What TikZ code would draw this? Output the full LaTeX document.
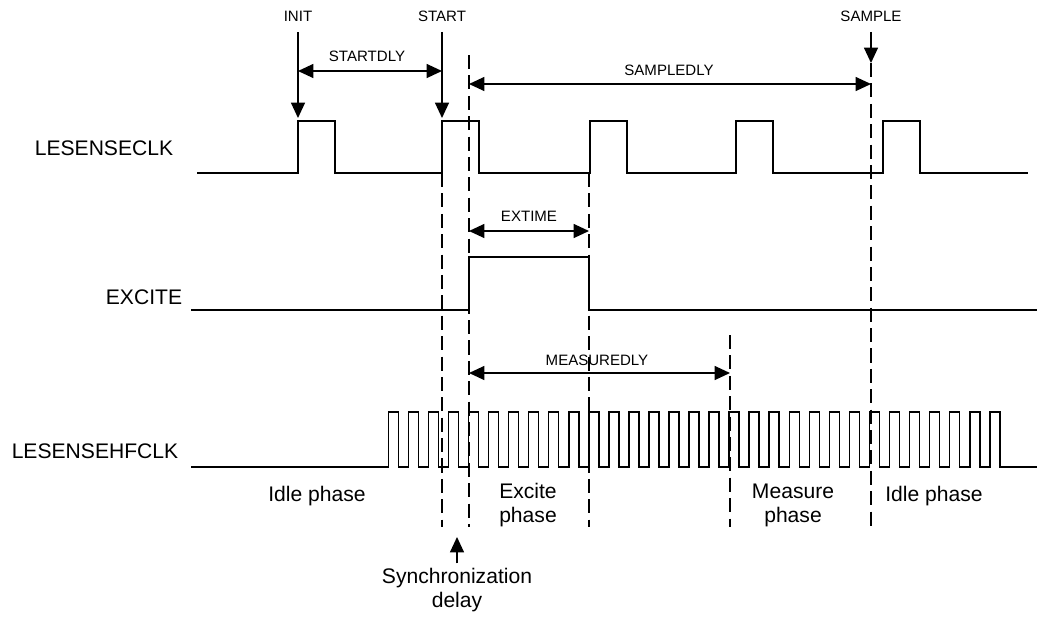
\documentclass[tikz,border=0pt]{standalone}
\usepackage{fontspec}
\setmainfont{Liberation Sans}
\usetikzlibrary{arrows.meta, positioning}

\begin{document}
\begin{tikzpicture}[x=0.025cm, y=-0.025cm,
    signal/.style={line width=1.3pt, line join=miter},
    guide/.style={line width=1pt, dash pattern=on 10pt off 4.5pt},
    timing/.style={line width=1pt, {Triangle[length=11pt,width=10pt]}-{Triangle[length=11pt,width=10pt]}},
    pointer/.style={line width=1pt, -{Triangle[length=11pt,width=10pt]}},
    signame/.style={font=\fontsize{15}{17}\selectfont},
    dlylabel/.style={font=\fontsize{10.7}{13}\selectfont},
    phase/.style={font=\fontsize{15}{17}\selectfont, align=center}]
        % Define the time points and the signal levels
        \def\tinit{298}
        \def\tstart{442}
        \def\tsync{469}
        \def\texc{589}
        \def\tmeas{730}
        \def\tsample{871}
        \useasboundingbox (0,0) rectangle (1039,620);
        % Signal names
        \node[signame] (clk) at (104,148.5) {LESENSECLK};
        \node[signame] (excite) at (144,297) {EXCITE};
        \node[signame] (hfclk) at (95,451) {LESENSEHFCLK};
        % Draw the low frequency clock
        \draw[signal] (197,173) \foreach \t in {\tinit,\tstart,590,736,883} {
            -- (\t,173) -- (\t,121) -- (\t+37,121) -- (\t+37,173)} -- (1028,173);
        % Draw the excitation pulse
        \draw[signal] (191,310) -- (\tsync,310) -- (\tsync,257) -- (\texc,257)
            -- (\texc,310) -- (1037,310);
        % Draw the high frequency clock
        \draw[signal, line width=1.1pt] (191,467) \foreach \i in {0,...,30} {
            -- ({388.3+20.05*\i},467) -- ({388.3+20.05*\i},412)
            -- ({398.3+20.05*\i},412) -- ({398.3+20.05*\i},467)} -- (1037,467);
        % Dashed guide lines
        \foreach \x/\y in {\tstart/173, \tsync/55, \texc/173, \tmeas/335, \tsample/63}
            \draw[guide] (\x,\y) -- (\x,527);
        % Trigger labels and arrows
        \node[dlylabel] (initlbl) at (\tinit,16.5) {INIT};
        \node[dlylabel] (startlbl) at (\tstart,16) {START};
        \node[dlylabel] (samplelbl) at (\tsample,16) {SAMPLE};
        \coordinate (inittip) at (\tinit,118);
        \coordinate (starttip) at (\tstart,118);
        \coordinate (sampletip) at (\tsample,63);
        \draw[pointer, shorten <=4pt] (initlbl) -- (inittip);
        \draw[pointer, shorten <=4pt] (startlbl) -- (starttip);
        \draw[pointer, shorten <=4pt] (samplelbl) -- (sampletip);
        % Delay arrows
        \node[dlylabel] (startdly) at (367,56) {STARTDLY};
        \node[dlylabel] (sampledly) at (669,70.5) {SAMPLEDLY};
        \node[dlylabel] (extime) at (529,216) {EXTIME};
        \node[dlylabel] (measdly) at (597,360) {MEASUREDLY};
        \coordinate (sdlyA) at (\tinit,71);
        \coordinate (sdlyB) at (\tstart,71);
        \coordinate (smpA) at (\tsync,84);
        \coordinate (smpB) at (\tsample,84);
        \coordinate (extA) at (\tsync,231);
        \coordinate (extB) at (\texc,231);
        \coordinate (msA) at (\tsync,373);
        \coordinate (msB) at (\tmeas,373);
        \draw[timing] (sdlyA) -- (sdlyB);
        \draw[timing] (smpA) -- (smpB);
        \draw[timing] (extA) -- (extB);
        \draw[timing] (msA) -- (msB);
        % Phases
        \node[phase] (idle1) at (317,496) {Idle phase};
        \node[phase] (excph) at (528,505) {Excite\\phase};
        \node[phase] (measph) at (793,505) {Measure\\phase};
        \node[phase] (idle2) at (934,496) {Idle phase};
        \node[phase] (syncdly) at (457,590) {Synchronization\\delay};
        \coordinate (synctip) at (457,537);
        \draw[pointer] (syncdly) -- (synctip);
    \end{tikzpicture}
\end{document}
